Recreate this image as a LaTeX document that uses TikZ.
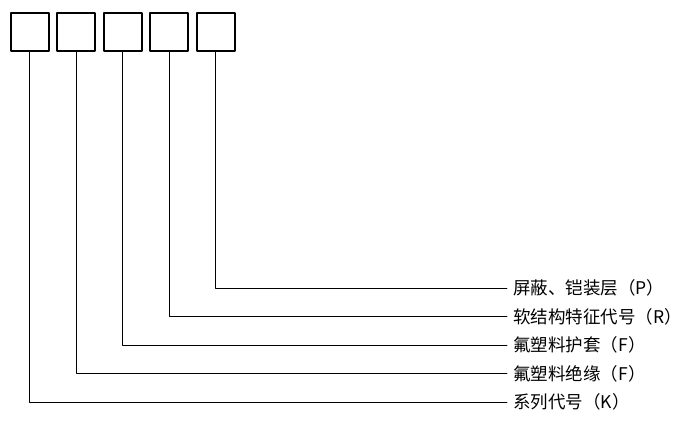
\documentclass[tikz,border=0pt]{standalone}
\usepackage{fontspec}
\newfontfamily\cjk{Noto Sans CJK SC}
\tikzset{
  cell/.style={draw,line width=2pt,minimum size=38pt,inner sep=0pt},
  lbl/.style={anchor=west,inner xsep=6pt,inner ysep=0pt,font=\cjk\fontsize{17.5pt}{20pt}\selectfont},
}
\begin{document}
\begin{tikzpicture}[x=1pt,y=-1pt,line join=round,line cap=round,line width=0.8pt]
  \useasboundingbox (0,0) rectangle (690,423);
  % code boxes
  \node[cell] (b1) at (29.5,32) {};
  \node[cell] (b2) at (76,32) {};
  \node[cell] (b3) at (122.5,32) {};
  \node[cell] (b4) at (169,32) {};
  \node[cell] (b5) at (215.5,32) {};
  % meanings
  \node[lbl] (p) at (507,288) {屏蔽、铠装层（P）};
  \node[lbl] (r) at (507,316.5) {软结构特征代号（R）};
  \node[lbl] (f2) at (507,345) {氟塑料护套（F）};
  \node[lbl] (f1) at (507,373.5) {氟塑料绝缘（F）};
  \node[lbl] (k) at (507,402) {系列代号（K）};
  % leaders
  \draw (b5.south) |- (p.west);
  \draw (b4.south) |- (r.west);
  \draw (b3.south) |- (f2.west);
  \draw (b2.south) |- (f1.west);
  \draw (b1.south) |- (k.west);
\end{tikzpicture}
\end{document}
